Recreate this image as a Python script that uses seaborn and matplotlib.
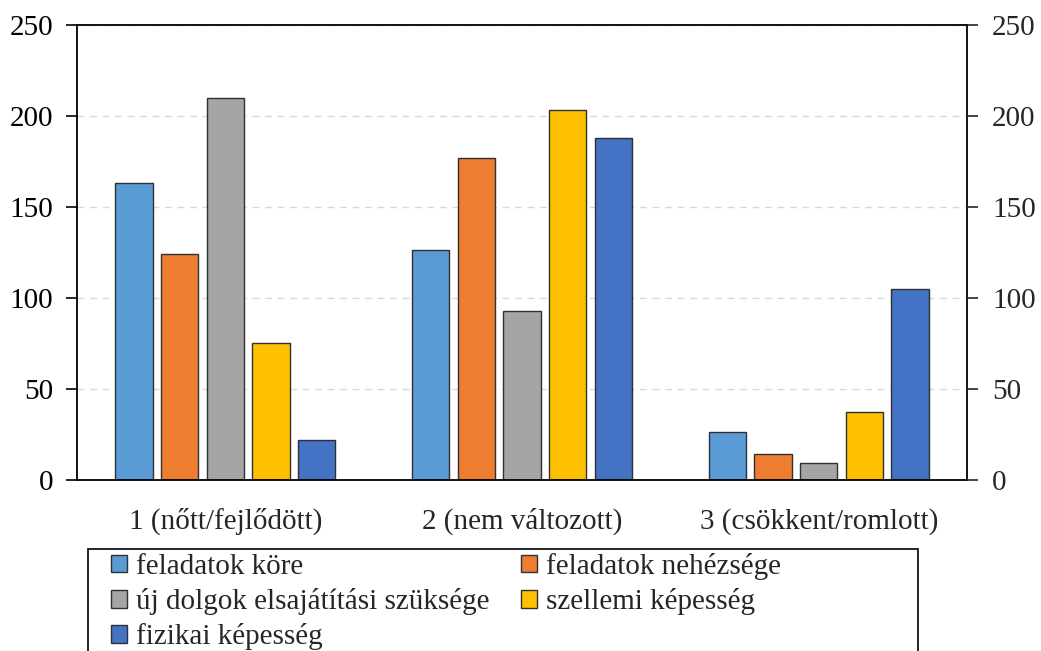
import matplotlib
matplotlib.use("Agg")
import matplotlib.pyplot as plt
from matplotlib.patches import Rectangle
import seaborn as sns
import pandas as pd

# Categories and series
groups = ["1 (nőtt/fejlődött)", "2 (nem változott)", "3 (csökkent/romlott)"]
series = [
    "feladatok köre",
    "feladatok nehézsége",
    "új dolgok elsajátítási szüksége",
    "szellemi képesség",
    "fizikai képesség",
]
feladatok_kore = [163, 126, 26]
feladatok_nehezsege = [124, 177, 14]
uj_dolgok = [210, 93, 9]
szellemi = [75, 203, 37]
fizikai = [22, 188, 105]
colors = ["#5B9BD5", "#ED7D31", "#A5A5A5", "#FFC000", "#4472C4"]
yticks = [0, 50, 100, 150, 200, 250]

values = [feladatok_kore, feladatok_nehezsege, uj_dolgok, szellemi, fizikai]
rows = []
for name, vals in zip(series, values):
    for g, v in zip(groups, vals):
        rows.append({"csoport": g, "sorozat": name, "érték": v})
df = pd.DataFrame(rows)

sns.set_style("white")
plt.rcParams["font.family"] = ["Liberation Serif", "DejaVu Serif"]
FS = 21

fig = plt.figure(figsize=(10.41, 6.51), dpi=100)
ax = fig.add_axes([0.074, 0.263, 0.855, 0.699])

sns.barplot(
    data=df, x="csoport", y="érték", hue="sorozat",
    order=groups, hue_order=series, palette=colors, saturation=1,
    width=0.77, gap=0.18, edgecolor="#303030", linewidth=1.0,
    errorbar=None, ax=ax, legend=True,
)

ax.set_xlim(-0.5, 2.5)
ax.set_ylim(0, 250)
ax.set_yticks(yticks)
ax.set_xlabel("")
ax.set_ylabel("")
ax.yaxis.grid(True, color="#d9d9d9", linestyle=(0, (5, 4)), linewidth=1.0)
ax.set_axisbelow(True)
for s in ax.spines.values():
    s.set_visible(True)
    s.set_color("black")
    s.set_linewidth(1.3)
ax.tick_params(axis="y", direction="out", length=8, width=1.2, labelsize=FS,
               colors="black", pad=9)
ax.tick_params(axis="x", length=0, labelsize=FS, pad=20)

ax2 = ax.twinx()
ax2.set_ylim(ax.get_ylim())
ax2.set_yticks(yticks)
ax2.tick_params(axis="y", direction="out", length=8, width=1.2, labelsize=FS,
                pad=10)
for s in ax2.spines.values():
    s.set_visible(False)

# Legend: row-wise ordering in two columns, inside a box open at the bottom
handles, labels = ax.get_legend_handles_labels()
ax.get_legend().remove()
order = [0, 2, 4, 1, 3]
leg = fig.legend(
    [handles[i] for i in order], [labels[i] for i in order],
    loc="upper left", bbox_to_anchor=(111 / 1041, 1 - 553 / 651),
    ncol=2, frameon=False, fontsize=FS,
    handlelength=0.55, handleheight=0.55, handletextpad=0.3,
    labelspacing=0.28, borderpad=0.0, borderaxespad=0.0, columnspacing=1.1,
)
for h in leg.legend_handles:
    h.set_edgecolor("#303030")
    h.set_linewidth(1.0)

fig.patches.append(Rectangle(
    (88 / 1041, -0.05), 830 / 1041, (651 - 549) / 651 + 0.05,
    transform=fig.transFigure, fill=False, edgecolor="black", linewidth=1.2,
))

fig.savefig("out.png", dpi=100)
